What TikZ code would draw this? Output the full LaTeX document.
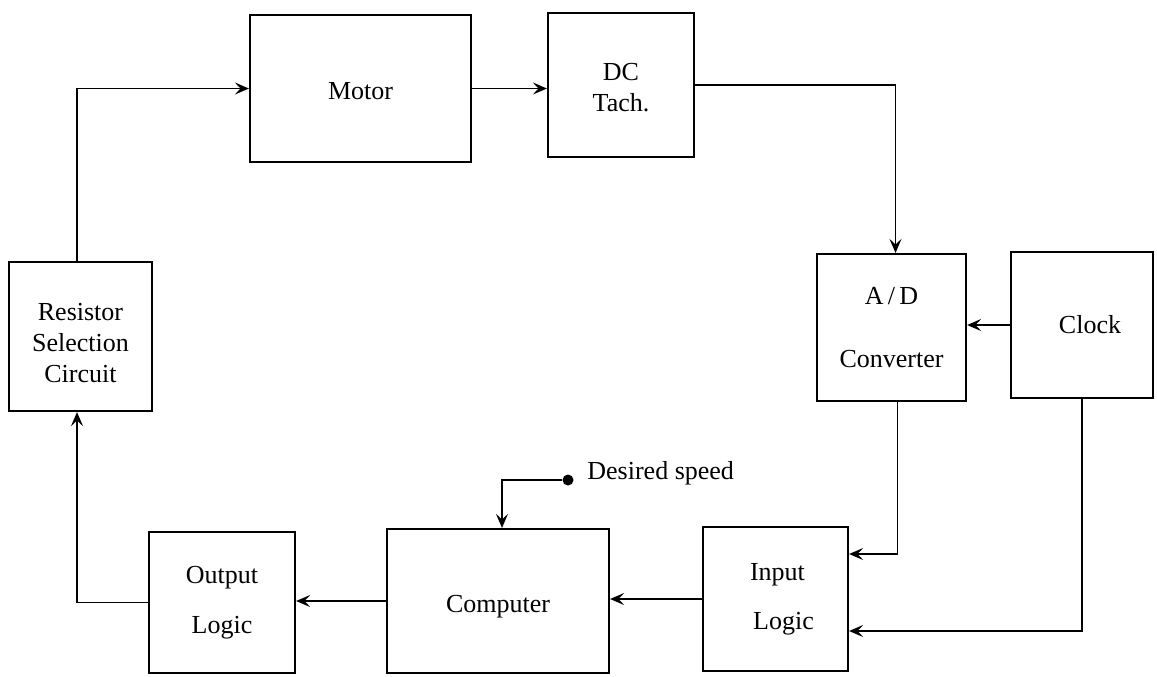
\documentclass[tikz,border=0pt]{standalone}
\usepackage{fontspec}
\setmainfont{Liberation Serif}
\usetikzlibrary{arrows.meta,calc}
\tikzset{
  blk/.style={draw, line width=1.1pt, align=center, inner sep=0pt,
    font=\fontsize{13}{15.6}\selectfont},
  conn/.style={draw, line width=0.95pt, -{Stealth[length=7pt,width=6pt,inset=2.8pt]}},
  lbl/.style={font=\fontsize{13}{15.6}\selectfont, inner sep=0pt}
}
\newcommand{\lowerby}[2]{\raisebox{-#1}[0pt][0pt]{#2}}
\newcommand{\stack}[1]{\begin{tabular}{@{}c@{}}#1\end{tabular}}
\begin{document}
\begin{tikzpicture}[x=0.5pt,y=-0.5pt]
\useasboundingbox (0,0) rectangle (1157,676);
% boxes
\node[blk, minimum width=110.5pt, minimum height=73.5pt] (motor) at (360.5,88.5) {\lowerby{5.5pt}{Motor}};
\node[blk, minimum width=73pt, minimum height=72pt] (dc) at (621,85) {\lowerby{5.5pt}{\stack{DC\\Tach.}}};
\node[blk, minimum width=74.5pt, minimum height=73.5pt] (ad) at (891.5,327.5) {A\,/\,D\\[16pt]Converter};
\node[blk, minimum width=71pt, minimum height=73pt] (clock) at (1082,325) {\hspace*{8pt}Clock};
\node[blk, minimum width=71.5pt, minimum height=74.5pt] (res) at (80.5,336.5) {\lowerby{7.5pt}{\stack{Resistor\\Selection\\Circuit}}};
\node[blk, minimum width=73pt, minimum height=70.5pt] (outlog) at (222,602.5) {Output\\[9.5pt]Logic};
\node[blk, minimum width=111pt, minimum height=72pt] (comp) at (498,601) {\lowerby{5.8pt}{Computer}};
\node[blk, minimum width=72.5pt, minimum height=72pt] (inlog) at (775.5,599) {\hspace*{2pt}Input\\[9pt]\hspace*{8pt}Logic};
% desired speed input
\node[circle, fill, inner sep=0pt, minimum size=5.5pt] (dot) at (568,480) {};
\node[lbl, anchor=west] (dslbl) at (587,473) {Desired speed};
% connectors
\draw[conn] (res.north -| 77,0) |- (motor.west);
\draw[conn] (motor.east) -- (motor.east -| dc.west);
\draw[conn] (dc.east) -| ([xshift=2pt]ad.north);
\draw[conn] (clock.west) -- (clock.west -| ad.east);
\draw[conn] ([xshift=3pt]ad.south) |- ([yshift=22.5pt]inlog.east);
\draw[conn] (clock.south) |- ([yshift=-16pt]inlog.east);
\draw[conn] (inlog.west) -- (inlog.west -| comp.east);
\draw[conn] (comp.west) -- (comp.west -| outlog.east);
\draw[conn] (outlog.west) -| (res.south -| 77,0);
\draw[conn] (dot) -| ([xshift=2pt]comp.north);
\end{tikzpicture}
\end{document}
